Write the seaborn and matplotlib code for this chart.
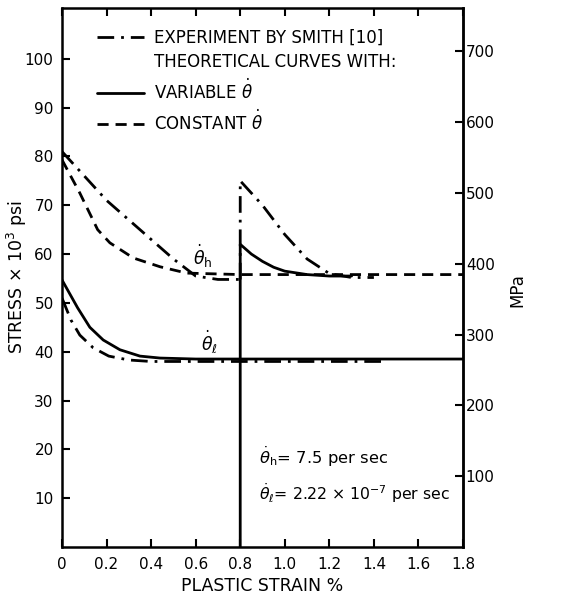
import numpy as np
import pandas as pd
import matplotlib
matplotlib.use("Agg")
import matplotlib.pyplot as plt
from matplotlib.lines import Line2D
import seaborn as sns

# ---------------- data ----------------
# experiment by Smith, high rate, first loading
exp_h1_x = [0.0, 0.1, 0.2, 0.3, 0.4, 0.5, 0.6, 0.7, 0.8]
exp_h1_y = [81.0, 76.0, 71.0, 67.0, 63.0, 59.0, 55.5, 54.8, 54.8]
# experiment, high rate after the rate jump at 0.8 %
exp_h2_x = [0.8, 0.8, 0.9, 1.0, 1.1, 1.2, 1.3, 1.4]
exp_h2_y = [54.8, 75.0, 70.0, 64.0, 59.0, 56.0, 55.2, 55.2]
# experiment, low rate
exp_l_x = [0.0, 0.04, 0.08, 0.14, 0.21, 0.3, 0.4, 1.45]
exp_l_y = [51.0, 46.5, 43.4, 40.8, 39.1, 38.3, 38.0, 38.0]
# theoretical, constant theta-dot, high rate
con_h_x = [0.0, 0.08, 0.16, 0.215, 0.32, 0.44, 0.56, 0.8, 1.2, 1.8]
con_h_y = [79.3, 72.5, 65.0, 62.3, 59.2, 57.4, 56.1, 55.8, 55.8, 55.8]
# theoretical, variable theta-dot, high rate after jump
var_h_x = [0.8, 0.8, 0.85, 0.9, 0.95, 1.0, 1.1, 1.2, 1.3]
var_h_y = [0.0, 62.0, 60.0, 58.5, 57.3, 56.5, 55.8, 55.5, 55.5]
# theoretical, variable theta-dot, low rate
var_l_x = [0.0, 0.07, 0.125, 0.185, 0.26, 0.35, 0.44, 0.6, 1.8]
var_l_y = [54.7, 49.0, 45.0, 42.4, 40.4, 39.1, 38.7, 38.5, 38.5]

xticks = [0, 0.2, 0.4, 0.6, 0.8, 1.0, 1.2, 1.4, 1.6, 1.8]
xticklabels = ["0", "0.2", "0.4", "0.6", "0.8", "1.0", "1.2", "1.4", "1.6", "1.8"]
yticks = [10, 20, 30, 40, 50, 60, 70, 80, 90, 100]
mpa_ticks = [100, 200, 300, 400, 500, 600, 700]
KSI_TO_MPA = 6.895

legend_labels = ["EXPERIMENT BY SMITH [10]", "THEORETICAL CURVES WITH:",
                 r"VARIABLE $\dot{\theta}$", r"CONSTANT $\dot{\theta}$"]

# ---------------- styling ----------------
sns.set_style("ticks")
plt.rcParams["font.family"] = ["DejaVu Sans"]
plt.rcParams["mathtext.fontset"] = "dejavusans"
plt.rcParams["text.color"] = "black"
plt.rcParams["axes.labelcolor"] = "black"
FS = 11
col = "black"
lw = 2.0
dashdot = (0, (6, 2.5, 1.0, 2.5))
dashed = (0, (4, 2.5))

fig = plt.figure(figsize=(5.61, 5.97), dpi=100)
ax = fig.add_axes([62 / 561, 50 / 597, 401 / 561, 539 / 597])


def draw(x, y, ls):
    df = pd.DataFrame({"x": x, "y": y})
    sns.lineplot(data=df, x="x", y="y", sort=False, estimator=None, ax=ax,
                 color=col, lw=lw, linestyle=ls)


draw(exp_h1_x, exp_h1_y, dashdot)
draw(exp_h2_x, exp_h2_y, dashdot)
draw(exp_l_x, exp_l_y, dashdot)
draw(con_h_x, con_h_y, dashed)
draw(var_h_x, var_h_y, "-")
draw(var_l_x, var_l_y, "-")

ax.set_xlim(0, 1.8)
ax.set_ylim(0, 110.4)
ax.set_xticks(xticks)
ax.set_xticklabels(xticklabels)
ax.set_yticks(yticks)
ax.tick_params(axis="both", direction="in", length=6, width=1.5, labelsize=FS,
               top=True, colors=col)
ax.tick_params(axis="x", pad=7)
ax.tick_params(axis="y", pad=6)
for s in ax.spines.values():
    s.set_linewidth(1.8)
    s.set_color(col)

ax.set_xlabel("PLASTIC STRAIN %", fontsize=FS + 1.5)
ax.xaxis.set_label_coords(0.5, -0.055)
ax.set_ylabel(r"STRESS $\times$ 10$^3$ psi", fontsize=FS + 1.5)
ax.yaxis.set_label_coords(-0.083, 0.5)

sec = ax.secondary_yaxis("right", functions=(lambda v: v * KSI_TO_MPA,
                                             lambda v: v / KSI_TO_MPA))
sec.set_yticks(mpa_ticks)
sec.tick_params(direction="in", length=6, width=1.5, labelsize=FS, pad=2,
                colors=col)
sec.spines["right"].set_linewidth(1.8)
sec.set_ylabel("MPa", fontsize=FS + 1, rotation=90, va="center")
sec.yaxis.set_label_coords(1.135, 0.477, transform=ax.transAxes)

# annotations
ax.text(0.63, 59.5, r"$\dot{\theta}_\mathrm{h}$", fontsize=FS + 1.5, ha="center", va="center")
ax.text(0.66, 42.0, r"$\dot{\theta}_\ell$", fontsize=FS + 1.5, ha="center", va="center")
ax.text(0.885, 18.4, r"$\dot{\theta}_\mathrm{h}$= 7.5 per sec", fontsize=FS + 0.8,
        ha="left", va="center")
ax.text(0.885, 11.0, r"$\dot{\theta}_\ell$= 2.22 $\times$ 10$^{-7}$ per sec",
        fontsize=FS + 0.3, ha="left", va="center")

handles = [Line2D([], [], color=col, lw=lw, linestyle=dashdot),
           Line2D([], [], linestyle="none"),
           Line2D([], [], color=col, lw=lw, linestyle="-"),
           Line2D([], [], color=col, lw=lw, linestyle=dashed)]
leg = ax.legend(handles, legend_labels, loc="upper left",
                bbox_to_anchor=(0.05, 0.99), frameon=False, fontsize=FS + 1,
                handlelength=2.8, labelspacing=0.42, handletextpad=0.6)

fig.savefig("out.png", dpi=100)
